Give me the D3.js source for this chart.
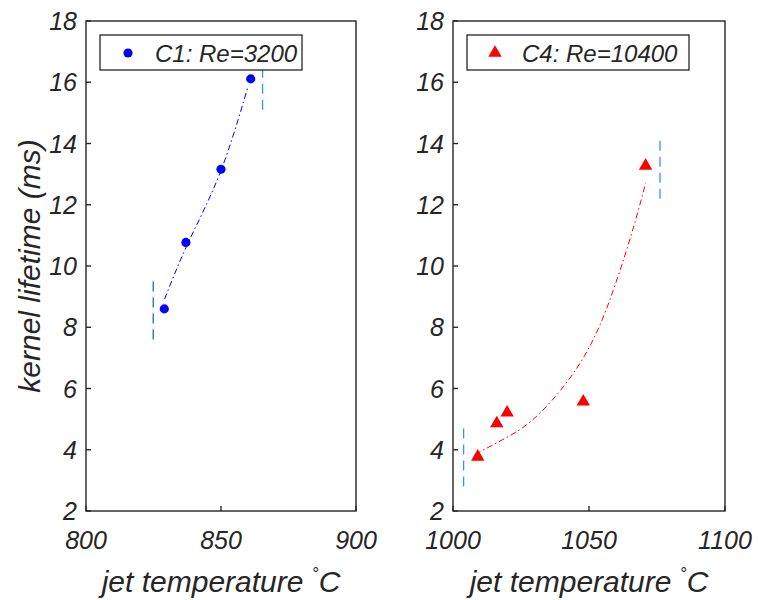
<!DOCTYPE html>
<html>
<head>
<meta charset="utf-8">
<script src="https://cdn.jsdelivr.net/npm/d3@7"></script>
<style>
  body { margin: 0; background: #fff; }
  text { font-family: "Liberation Sans", Arial, sans-serif; font-style: italic; fill: #262626; }
</style>
</head>
<body>
<svg width="758" height="600"></svg>
<script>
// left panel: C1
var c1Temp = [829, 837, 850, 861];
var c1Life = [8.6, 10.77, 13.16, 16.11];
var c1FitTemp = [829.1, 837.9, 849.6, 860];
var c1FitLife = [8.92, 10.77, 13.03, 15.86];
var c1BarTemp = [824.9, 865.4];
var c1BarMid = [8.6, 16.1];

// right panel: C4
var c4Temp = [1009.1, 1016.1, 1019.9, 1047.9, 1070.8];
var c4Life = [3.77, 4.86, 5.21, 5.57, 13.27];
var c4FitTemp = [1008.1, 1019.7, 1032, 1047.9, 1058.9, 1066.3, 1070.8];
var c4FitLife = [3.85, 4.4, 5.2, 7.0, 9.2, 11.25, 12.7];
var c4BarTemp = [1003.9, 1076.1];
var c4BarMid = [3.8, 13.2];

var yTicks = [2, 4, 6, 8, 10, 12, 14, 16, 18];
var c1XTicks = [800, 850, 900];
var c4XTicks = [1000, 1050, 1100];

var svg = d3.select("svg");
var plotTop = 21, plotBottom = 511;

function panel(opt) {
  var x = d3.scaleLinear().domain(opt.xDomain).range([opt.left, opt.right]);
  var y = d3.scaleLinear().domain([2, 18]).range([plotBottom, plotTop]);
  var g = svg.append("g");

  // dashed vertical bars
  opt.barTemp.forEach(function (t, i) {
    g.append("line")
      .attr("x1", x(t)).attr("x2", x(t))
      .attr("y1", y(opt.barMid[i] - 1)).attr("y2", y(opt.barMid[i] + 1))
      .attr("stroke", opt.barColor[i])
      .attr("stroke-width", 1.3)
      .attr("stroke-dasharray", "10,6");
  });

  // fit curve
  var fit = opt.fitTemp.map(function (t, i) { return [t, opt.fitLife[i]]; });
  g.append("path")
    .datum(fit)
    .attr("fill", "none")
    .attr("stroke", opt.color)
    .attr("stroke-width", 1)
    .attr("stroke-dasharray", "6,3,1.5,3")
    .attr("d", d3.line().x(function (d) { return x(d[0]); }).y(function (d) { return y(d[1]); }).curve(d3.curveNatural));

  // markers
  var sym = d3.symbol().type(opt.shape).size(opt.shape === d3.symbolCircle ? 66 : 78);
  opt.temp.forEach(function (t, i) {
    g.append("path")
      .attr("d", sym)
      .attr("transform", "translate(" + x(t) + "," + y(opt.life[i]) + ")")
      .attr("fill", opt.color);
  });

  // box
  g.append("rect")
    .attr("x", opt.left).attr("y", plotTop)
    .attr("width", opt.right - opt.left).attr("height", plotBottom - plotTop)
    .attr("fill", "none").attr("stroke", "#262626").attr("stroke-width", 1.4);

  // y ticks
  yTicks.forEach(function (v) {
    g.append("line")
      .attr("x1", opt.left).attr("x2", opt.left + 5)
      .attr("y1", y(v)).attr("y2", y(v))
      .attr("stroke", "#262626").attr("stroke-width", 1.4);
    g.append("text")
      .attr("x", opt.left - 9).attr("y", y(v) + 9)
      .attr("text-anchor", "end")
      .attr("font-size", 25)
      .text(v);
  });

  // x ticks
  opt.xTicks.forEach(function (v) {
    g.append("line")
      .attr("x1", x(v)).attr("x2", x(v))
      .attr("y1", plotBottom).attr("y2", plotBottom - 5)
      .attr("stroke", "#262626").attr("stroke-width", 1.4);
    g.append("text")
      .attr("x", x(v)).attr("y", plotBottom + 38)
      .attr("text-anchor", "middle")
      .attr("font-size", 25)
      .text(v);
  });

  // x label
  var xl = g.append("text")
    .attr("x", (opt.left + opt.right) / 2).attr("y", 592)
    .attr("text-anchor", "middle")
    .attr("font-size", 30);
  xl.append("tspan").text("jet temperature  ");
  xl.append("tspan").attr("font-size", 17).attr("dy", -13).text("°");
  xl.append("tspan").attr("dy", 13).text("C");

  // legend
  var lg = g.append("g");
  lg.append("rect")
    .attr("x", opt.left + opt.legX).attr("y", 35)
    .attr("width", opt.legW).attr("height", 35)
    .attr("fill", "#fff").attr("stroke", "#262626").attr("stroke-width", 1.3);
  lg.append("path")
    .attr("d", sym)
    .attr("transform", "translate(" + (opt.left + opt.legX + 28) + ",53)")
    .attr("fill", opt.color);
  lg.append("text")
    .attr("x", opt.left + opt.legX + 55).attr("y", 62)
    .attr("font-size", 24)
    .text(opt.label);
}

panel({
  left: 86, right: 356, xDomain: [800, 900], xTicks: c1XTicks,
  temp: c1Temp, life: c1Life, fitTemp: c1FitTemp, fitLife: c1FitLife,
  barTemp: c1BarTemp, barMid: c1BarMid, barColor: ["#1F6FB0", "#3399DD"],
  color: "#0000FF", shape: d3.symbolCircle, label: "C1: Re=3200",
  legX: 14, legW: 202
});

panel({
  left: 453, right: 725, xDomain: [1000, 1100], xTicks: c4XTicks,
  temp: c4Temp, life: c4Life, fitTemp: c4FitTemp, fitLife: c4FitLife,
  barTemp: c4BarTemp, barMid: c4BarMid, barColor: ["#3399DD", "#3399DD"],
  color: "#FF0000", shape: d3.symbolTriangle, label: "C4: Re=10400",
  legX: 14, legW: 222
});

// y label
svg.append("text")
  .attr("transform", "translate(40,266) rotate(-90)")
  .attr("text-anchor", "middle")
  .attr("font-size", 30)
  .text("kernel lifetime (ms)");
</script>
</body>
</html>
